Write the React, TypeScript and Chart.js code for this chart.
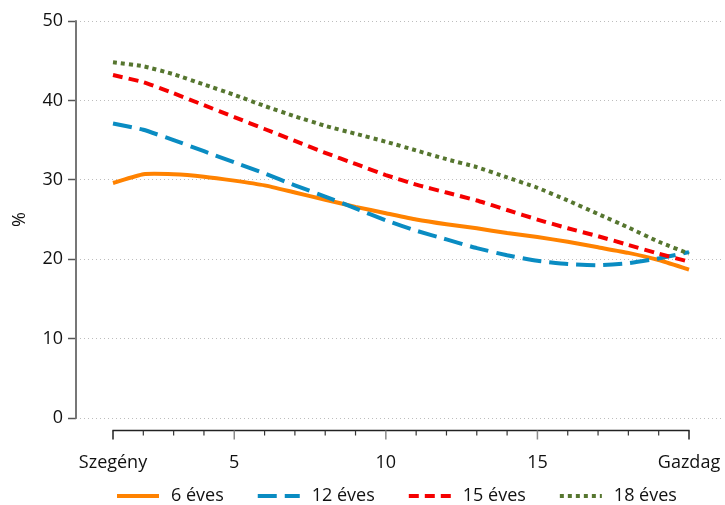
import React, { useEffect, useRef } from 'react';
import { Chart, registerables } from 'chart.js';

Chart.register(...registerables);

// ---- data ----
const xValues = [1, 2, 3, 4, 5, 6, 7, 8, 9, 10, 11, 12, 13, 14, 15, 16, 17, 18, 19, 20];
const age6 = [29.6, 30.7, 30.7, 30.4, 29.9, 29.3, 28.4, 27.5, 26.6, 25.8, 25.0, 24.4, 23.9, 23.3, 22.8, 22.2, 21.5, 20.8, 19.9, 18.7];
const age12 = [37.1, 36.3, 35.0, 33.6, 32.2, 30.8, 29.3, 27.9, 26.4, 24.9, 23.6, 22.5, 21.4, 20.5, 19.8, 19.4, 19.25, 19.5, 20.1, 20.9];
const age15 = [43.2, 42.3, 40.9, 39.4, 37.9, 36.4, 34.9, 33.4, 32.0, 30.6, 29.4, 28.4, 27.4, 26.2, 25.0, 23.9, 22.9, 21.8, 20.7, 19.7];
const age18 = [44.8, 44.3, 43.3, 42.0, 40.7, 39.3, 38.0, 36.8, 35.8, 34.8, 33.7, 32.6, 31.6, 30.3, 29.0, 27.4, 25.7, 24.0, 22.2, 20.7];

const seriesLabels = ['6 éves', '12 éves', '15 éves', '18 éves'];
const seriesColors = ['#FF8200', '#0A8CC2', '#F50000', '#56762F'];
const seriesDashes: number[][] = [[], [19, 8], [10, 6], [4, 4]];

const xMajorTicks = [1, 5, 10, 15, 20];
const xMajorLabels = ['Szegény', '5', '10', '15', 'Gazdag'];
const yTicks = [0, 10, 20, 30, 40, 50];
const yTitle = '%';

const FONT = '"Open Sans", Lato, "DejaVu Sans", sans-serif';
const TEXT = '#111111';

const stataPlugin = {
  id: 'stataAxes',
  afterDraw(chart: any) {
    const { ctx, chartArea } = chart;
    const xs = chart.scales.x;
    const ys = chart.scales.y;
    const yBottom = ys.getPixelForValue(yTicks[0]);
    const yTop = ys.getPixelForValue(yTicks[yTicks.length - 1]);
    ctx.save();
    // y axis line
    ctx.strokeStyle = '#777777';
    ctx.lineWidth = 2;
    ctx.setLineDash([]);
    ctx.beginPath();
    ctx.moveTo(chartArea.left, yTop - 0.75);
    ctx.lineTo(chartArea.left, yBottom + 0.75);
    ctx.stroke();

    // x axis line
    const xb = chartArea.bottom + 0.5;
    const xl = xs.getPixelForValue(xValues[0]);
    const xr = xs.getPixelForValue(xValues[xValues.length - 1]);
    ctx.strokeStyle = '#222222';
    ctx.lineWidth = 1.3;
    ctx.beginPath();
    ctx.moveTo(xl - 0.6, xb);
    ctx.lineTo(xr + 0.6, xb);
    ctx.stroke();
    // x ticks
    xValues.forEach((v, i) => {
      const px = xs.getPixelForValue(v);
      const major = xMajorTicks.includes(v);
      const edge = i === 0 || i === xValues.length - 1;
      ctx.strokeStyle = edge ? '#222222' : major ? '#8a8a8a' : '#333333';
      ctx.lineWidth = major ? 1.5 : 1.2;
      ctx.beginPath();
      ctx.moveTo(px, xb);
      ctx.lineTo(px, xb + (major ? 9 : 5));
      ctx.stroke();
    });

    // y title
    ctx.fillStyle = TEXT;
    ctx.font = `18px ${FONT}`;
    ctx.textAlign = 'center';
    ctx.textBaseline = 'middle';
    ctx.save();
    ctx.translate(20, (yTop + yBottom) / 2);
    ctx.rotate(-Math.PI / 2);
    ctx.fillText(yTitle, 0, 0);
    ctx.restore();

    // legend
    const ly = 496;
    let lx = 117;
    const sample = 42;
    chart.data.datasets.forEach((ds: any) => {
      ctx.strokeStyle = ds.borderColor;
      ctx.lineWidth = 4;
      ctx.lineCap = 'butt';
      ctx.setLineDash(ds.borderDash || []);
      ctx.beginPath();
      ctx.moveTo(lx, ly);
      ctx.lineTo(lx + sample, ly);
      ctx.stroke();
      ctx.setLineDash([]);
      ctx.fillStyle = TEXT;
      ctx.textAlign = 'left';
      ctx.textBaseline = 'middle';
      const tx = lx + sample + 12;
      ctx.fillText(ds.label, tx, ly);
      lx = tx + ctx.measureText(ds.label).width + 34;
    });
    ctx.restore();
  },
};

export default function App() {
  const ref = useRef<HTMLCanvasElement | null>(null);

  useEffect(() => {
    if (!ref.current) return;
    const seriesValues = [age6, age12, age15, age18];
    const chart = new Chart(ref.current, {
      type: 'line',
      data: {
        datasets: seriesValues.map((vals, i) => ({
          label: seriesLabels[i],
          data: xValues.map((x, j) => ({ x, y: vals[j] })),
          borderColor: seriesColors[i],
          backgroundColor: seriesColors[i],
          borderDash: seriesDashes[i],
          borderWidth: 4,
          borderCapStyle: 'butt',
          borderJoinStyle: 'round',
          pointRadius: 0,
          tension: 0.15,
          fill: false,
          order: 4 - i,
        })),
      },
      options: {
        animation: false,
        responsive: false,
        devicePixelRatio: 1,
        layout: { padding: { top: 21, right: 2, left: 0, bottom: 0 } },
        plugins: {
          legend: { display: false },
          tooltip: { enabled: false },
        },
        scales: {
          x: {
            type: 'linear',
            min: -0.2205,
            max: 21.1215,
            afterBuildTicks: (axis: any) => {
              axis.ticks = xMajorTicks.map((v) => ({ value: v }));
            },
            afterFit: (axis: any) => {
              axis.height = 75;
              axis.paddingLeft = 0;
              axis.paddingRight = 0;
            },
            ticks: {
              autoSkip: false,
              maxRotation: 0,
              padding: 14,
              color: TEXT,
              font: { family: FONT, size: 18 },
              callback: (value: any) => {
                const idx = xMajorTicks.indexOf(Number(value));
                return idx >= 0 ? xMajorLabels[idx] : '';
              },
            },
            grid: { display: false },
            border: { display: false },
          },
          y: {
            type: 'linear',
            min: -1.5,
            max: 50,
            afterBuildTicks: (axis: any) => {
              axis.ticks = yTicks.map((v) => ({ value: v }));
            },
            afterFit: (axis: any) => {
              axis.width = 76;
            },
            ticks: {
              padding: 5,
              color: TEXT,
              font: { family: FONT, size: 18 },
            },
            grid: {
              color: '#bdbdbd',
              lineWidth: 1,
              tickLength: 8,
              tickColor: '#555555',
              tickWidth: 1.5,
            },
            border: { display: false, dash: [1, 3] },
          },
        },
      },
      plugins: [stataPlugin],
    } as any);
    return () => chart.destroy();
  }, []);

  return (
    <div style={{ position: 'fixed', left: 0, top: 0, width: 725, height: 505, background: '#fff' }}>
      <canvas ref={ref} width={725} height={505} style={{ width: 725, height: 505, display: 'block' }} />
    </div>
  );
}
